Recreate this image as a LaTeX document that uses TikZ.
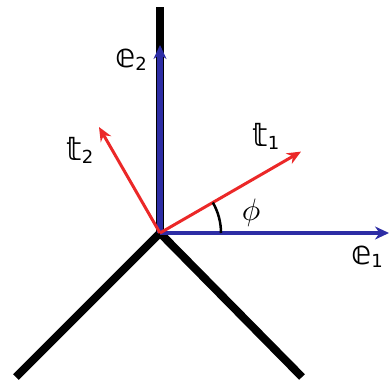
\documentclass[tikz,border=0pt]{standalone}
\usepackage{amsmath,amssymb}
\usepackage{fontspec}
\usepackage{xcolor}
\usetikzlibrary{arrows.meta}

\newfontfamily\dsfont{DejaVu Sans}
\newcommand{\bblab}[2]{{\dsfont\fontsize{33}{36}\selectfont #1\raisebox{-3pt}{\fontsize{18}{21}\selectfont #2}}}
\definecolor{axisblue}{RGB}{45,45,165}
\definecolor{frred}{RGB}{235,40,40}

\begin{document}
\begin{tikzpicture}[
    x=1pt,y=1pt,
    wall/.style={draw,black,line width=8pt},
    basis/.style={draw,axisblue,-{Stealth[length=14pt,width=13pt]}},
    frame/.style={draw,frred,line width=3pt,-{Stealth[length=14pt,width=12pt]}},
    lbl/.style={inner sep=1pt}
  ]
    \useasboundingbox (-160,-150) rectangle (230,233);

    \coordinate (O)  at (0,0);
    \coordinate (top) at (0,226);
    \coordinate (bl) at (-144,-144);
    \coordinate (br) at (142,-144);
    \coordinate (e1) at (229,0);
    \coordinate (e2) at (0,188);
    \coordinate (t1) at (141,81.4);
    \coordinate (t2) at (-61,106);

    \draw[wall] (bl) -- (O) -- (br);
    \draw[wall] (O) -- (top);

    \draw[basis,line width=6.5pt] (O) -- (e2);
    \draw[basis,line width=4pt] (O) -- (e1);
    \draw[frame] (O) -- (t1);
    \draw[frame] (O) -- (t2);

    \draw[line width=2.5pt] (61,0) arc[start angle=0,end angle=30,radius=61];

    \node[lbl] (le1) at (207,-24) {\bblab{𝕖}{1}};
    \node[lbl] (le2) at (-29,173) {\bblab{𝕖}{2}};
    \node[lbl] (lt1) at (106,97) {\bblab{𝕥}{1}};
    \node[lbl] (lt2) at (-80,83) {\bblab{𝕥}{2}};
    \node[lbl,scale=3.1] (phi) at (91,20) {$\phi$};
  \end{tikzpicture}
\end{document}
